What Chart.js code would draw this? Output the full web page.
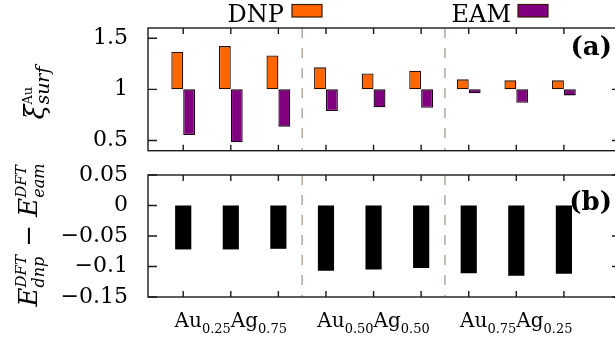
<!DOCTYPE html>
<html><head><meta charset="utf-8">
<script src="https://cdn.jsdelivr.net/npm/chart.js@4.4.1/dist/chart.umd.min.js"></script>
<style>
html,body{margin:0;padding:0;background:#fff;overflow:hidden;width:615px;height:345px;position:relative;}
#wrapA{position:absolute;left:0;top:0;width:640px;height:165px;}
#wrapB{position:absolute;left:0;top:150px;width:640px;height:195px;}
canvas{display:block;}
</style></head><body>
<div id="wrapA"><canvas id="ca" width="640" height="165"></canvas></div>
<div id="wrapB"><canvas id="cb" width="640" height="195"></canvas></div>
<script>
// ---- data ----
const positions = [1, 2, 3, 4, 5, 6, 7, 8, 9];
const seriesNames = ['DNP', 'EAM'];
const dnpValues = [1.367, 1.423, 1.332, 1.215, 1.156, 1.182, 1.098, 1.088, 1.088];
const eamValues = [0.554, 0.482, 0.635, 0.788, 0.824, 0.820, 0.961, 0.869, 0.941];
const diffValues = [-0.072, -0.072, -0.071, -0.107, -0.105, -0.1025, -0.111, -0.115, -0.112];
const baseA = 1;
const groupCenters = [2, 5, 8];
const groupAu = ['0.25', '0.50', '0.75'];
const groupAg = ['0.75', '0.50', '0.25'];
const separators = [3.5, 6.5];
const yTicksA = [0.5, 1, 1.5];
const yTicksB = [-0.15, -0.1, -0.05, 0, 0.05];

const SERIF = '"DejaVu Serif", "Liberation Serif", serif';
const X_MIN = 0.26, X_MAX = 10.2;

function drawRich(ctx, segs, x, y, align) {
  const widths = segs.map(s => {
    if (s.stack) {
      return Math.max(...s.stack.map(p => { ctx.font = p.f; return ctx.measureText(p.t).width; }));
    }
    ctx.font = s.f; return ctx.measureText(s.t).width;
  });
  const total = widths.reduce((a, b) => a + b, 0);
  let cx = align === 'center' ? x - total / 2 : (align === 'right' ? x - total : x);
  ctx.textAlign = 'left';
  ctx.textBaseline = 'alphabetic';
  segs.forEach((s, i) => {
    const parts = s.stack ? s.stack : [s];
    parts.forEach(p => { ctx.font = p.f; ctx.fillText(p.t, cx, y + (p.dy || 0)); });
    cx += widths[i];
  });
}

function panelLabel(ctx, text, xRight, baseline) {
  ctx.font = 'bold 26px ' + SERIF;
  const w = ctx.measureText(text).width;
  ctx.fillStyle = '#fff';
  ctx.fillRect(xRight - w + 4, baseline - 22, w + 16, 28);
  ctx.fillStyle = '#000';
  ctx.textAlign = 'right';
  ctx.textBaseline = 'alphabetic';
  ctx.fillText(text, xRight, baseline);
}

const decorPlugin = {
  id: 'decor',
  afterDatasetsDraw(chart) {
    const ctx = chart.ctx;
    const a = chart.chartArea;
    const xs = chart.scales.x, ys = chart.scales.y;
    const isA = chart.canvas.id === 'ca';
    const yTicks = isA ? yTicksA : yTicksB;
    ctx.save();
    // dashed separators
    ctx.strokeStyle = '#b3a69d';
    ctx.lineWidth = 1.5;
    ctx.setLineDash([10, 10]);
    separators.forEach(v => {
      const px = xs.getPixelForValue(v);
      ctx.beginPath(); ctx.moveTo(px, a.top); ctx.lineTo(px, a.bottom); ctx.stroke();
    });
    ctx.setLineDash([]);
    // inward ticks
    ctx.strokeStyle = '#1a1a1a';
    ctx.lineWidth = 1.4;
    ctx.beginPath();
    positions.forEach(v => {
      const px = xs.getPixelForValue(v);
      ctx.moveTo(px, a.top); ctx.lineTo(px, a.top + 6);
      ctx.moveTo(px, a.bottom); ctx.lineTo(px, a.bottom - 6);
    });
    yTicks.forEach(v => {
      const py = ys.getPixelForValue(v);
      ctx.moveTo(a.left, py); ctx.lineTo(a.left + 9, py);
      ctx.moveTo(a.right, py); ctx.lineTo(a.right - 9, py);
    });
    ctx.stroke();

    if (isA) {
      panelLabel(ctx, '(a)', 612, 55);
    } else {
      panelLabel(ctx, '(b)', 612, 60);
    }
    // frame
    ctx.strokeStyle = '#1a1a1a';
    ctx.lineWidth = 1.4;
    ctx.strokeRect(a.left, a.top, a.right - a.left, a.bottom - a.top);

    ctx.fillStyle = '#000';
    if (isA) {
      // legend (text then swatch)
      const colors = ['#ff6600', '#800080'];
      const textRight = [284, 511];
      const swX = [292, 518];
      seriesNames.forEach((n, i) => {
        ctx.font = '24px ' + SERIF;
        ctx.textAlign = 'right'; ctx.textBaseline = 'alphabetic';
        ctx.fillStyle = '#000';
        ctx.fillText(n, textRight[i], 22);
        ctx.fillStyle = colors[i];
        ctx.fillRect(swX[i], 4.5, 30, 12.5);
        ctx.strokeStyle = '#3a1a00'; ctx.lineWidth = 1.2;
        ctx.strokeRect(swX[i], 4.5, 30, 12.5);
      });
      ctx.fillStyle = '#000';
      // y title
      ctx.save();
      ctx.translate(44, 93);
      ctx.rotate(-Math.PI / 2);
      drawRich(ctx, [
        { t: 'ξ', f: 'italic 27px ' + SERIF, dy: 0 },
        { stack: [
          { t: 'Au', f: '13px ' + SERIF, dy: -12 },
          { t: 'surf', f: 'italic 19px ' + SERIF, dy: 5 }
        ] }
      ], 0, 0, 'center');
      ctx.restore();
    } else {
      // group labels
      groupCenters.forEach((g, i) => {
        const px = xs.getPixelForValue(g);
        drawRich(ctx, [
          { t: 'Au', f: '20px ' + SERIF },
          { t: groupAu[i], f: '13px ' + SERIF, dy: 6 },
          { t: 'Ag', f: '20px ' + SERIF },
          { t: groupAg[i], f: '13px ' + SERIF, dy: 6 }
        ], px, 176.7, 'center');
      });
      // y title
      ctx.save();
      ctx.translate(37, 85);
      ctx.rotate(-Math.PI / 2);
      drawRich(ctx, [
        { t: 'E', f: 'italic 26px ' + SERIF },
        { stack: [
          { t: 'DFT', f: 'italic 15px ' + SERIF, dy: -11 },
          { t: 'dnp', f: 'italic 16px ' + SERIF, dy: 7 }
        ] },
        { t: ' − ', f: '26px ' + SERIF },
        { t: 'E', f: 'italic 26px ' + SERIF },
        { stack: [
          { t: 'DFT', f: 'italic 15px ' + SERIF, dy: -11 },
          { t: 'eam', f: 'italic 16px ' + SERIF, dy: 7 }
        ] }
      ], 0, 0, 'center');
      ctx.restore();
    }
    ctx.restore();
  }
};

function makeOptions(yMin, yMax, yTicks, pad) {
  return {
    responsive: false,
    animation: false,
    devicePixelRatio: 1,
    events: [],
    layout: { padding: pad },
    plugins: { legend: { display: false }, tooltip: { enabled: false } },
    scales: {
      x: {
        type: 'linear', display: false, offset: false, min: X_MIN, max: X_MAX,
        afterBuildTicks: s => { s.ticks = positions.map(v => ({ value: v })); }
      },
      y: {
        type: 'linear', min: yMin, max: yMax,
        grid: { display: false, drawTicks: false },
        border: { display: false },
        afterBuildTicks: s => { s.ticks = yTicks.map(v => ({ value: v })); },
        ticks: {
          padding: 20, color: '#000',
          font: { family: SERIF, size: 22 },
          callback: v => String(v).replace('-', '\u2212')
        },
        afterFit: s => { s.width = 148; s.paddingTop = 0; s.paddingBottom = 0; }
      }
    }
  };
}

new Chart(document.getElementById('ca'), {
  type: 'bar',
  data: {
    datasets: [
      {
        label: seriesNames[0],
        data: positions.map((p, i) => ({ x: p, y: [baseA, dnpValues[i]] })),
        backgroundColor: '#ff6600', borderColor: '#2b0f00', borderWidth: 1.3,
        borderSkipped: false, categoryPercentage: 0.5, barPercentage: 1
      },
      {
        label: seriesNames[1],
        data: positions.map((p, i) => ({ x: p, y: [baseA, eamValues[i]] })),
        backgroundColor: '#800080', borderColor: '#1a001a', borderWidth: 1.3,
        borderSkipped: false, categoryPercentage: 0.5, barPercentage: 1
      }
    ]
  },
  options: makeOptions(0.4, 1.6, yTicksA, { top: 28, bottom: 14.3, left: 0, right: 19 }),
  plugins: [decorPlugin]
});

new Chart(document.getElementById('cb'), {
  type: 'bar',
  data: {
    datasets: [
      {
        label: 'diff',
        data: positions.map((p, i) => ({ x: p, y: diffValues[i] })),
        backgroundColor: '#000', borderWidth: 0,
        categoryPercentage: 0.34, barPercentage: 1
      }
    ]
  },
  options: makeOptions(-0.15, 0.05, yTicksB, { top: 25, bottom: 48, left: 0, right: 19 }),
  plugins: [decorPlugin]
});
</script>
</body></html>
